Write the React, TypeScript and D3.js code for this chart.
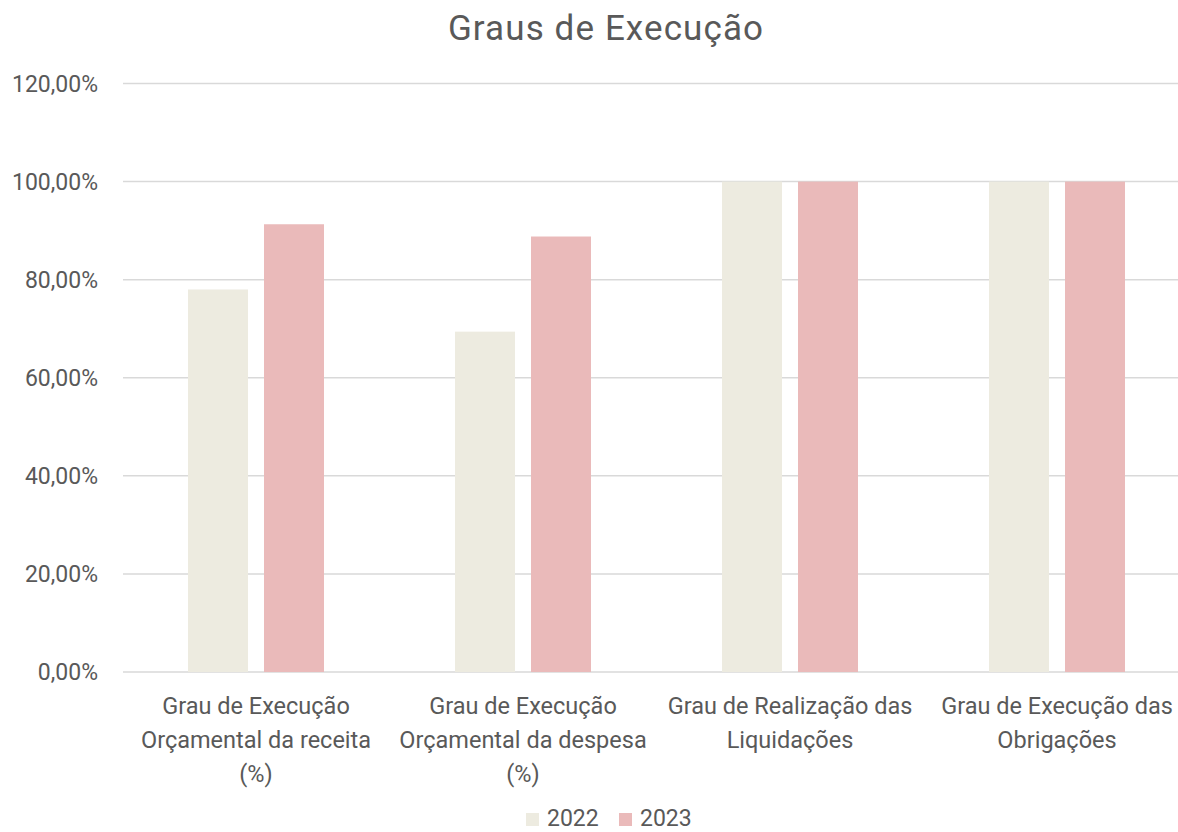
import React, { useRef, useEffect } from "react";
import * as d3 from "d3";

const categories = [
  ["Grau de Execução", "Orçamental da receita", "(%)"],
  ["Grau de Execução", "Orçamental da despesa", "(%)"],
  ["Grau de Realização das", "Liquidações"],
  ["Grau de Execução das", "Obrigações"],
];
const years = ["2022", "2023"];
const values2022 = [78.0, 69.4, 100, 100];
const values2023 = [91.3, 88.8, 100, 100];
const yTicks = [0, 20, 40, 60, 80, 100, 120];

const colors = ["#EDEBE0", "#EABABA"];
const textColor = "#595959";
const font = "Roboto, 'Open Sans', sans-serif";

const App = () => {
  const svgRef = useRef<SVGSVGElement>(null);

  useEffect(() => {
    const width = 1178;
    const height = 832;

    const svg = d3.select(svgRef.current);
    svg.selectAll("*").remove();
    svg.attr("width", width).attr("height", height);

    // plot runs a little past the right edge in the original
    const x = d3.scaleBand<number>()
      .domain(d3.range(categories.length))
      .range([122.5, 1190.5]);

    const y = d3.scaleLinear()
      .domain([0, 120])
      .range([672, 83.5]);

    // title
    svg.append("text")
      .attr("x", 606)
      .attr("y", 40)
      .attr("text-anchor", "middle")
      .attr("font-family", font)
      .attr("font-size", 35)
      .attr("letter-spacing", 1.1)
      .attr("fill", textColor)
      .text("Graus de Execução");

    // gridlines
    svg.append("g")
      .selectAll("line")
      .data(yTicks)
      .enter()
      .append("line")
      .attr("x1", 123)
      .attr("x2", width)
      .attr("y1", d => y(d))
      .attr("y2", d => y(d))
      .attr("stroke", "#D9D9D9")
      .attr("stroke-width", 1.5);

    // y labels
    svg.append("g")
      .selectAll("text")
      .data(yTicks)
      .enter()
      .append("text")
      .attr("x", 98)
      .attr("y", d => y(d))
      .attr("dy", "0.35em")
      .attr("text-anchor", "end")
      .attr("font-family", font)
      .attr("font-size", 23)
      .attr("fill", textColor)
      .text(d => d3.format(".2f")(d).replace(".", ",") + "%");

    // bars
    const barW = 60;
    const gap = 16;
    const series = [values2022, values2023];
    series.forEach((vals, s) => {
      svg.append("g")
        .selectAll("rect")
        .data(vals)
        .enter()
        .append("rect")
        .attr("x", (d, i) => x(i)! + x.bandwidth() / 2 + (s === 0 ? -gap / 2 - barW : gap / 2))
        .attr("y", d => y(d))
        .attr("width", barW)
        .attr("height", d => y(0) - y(d))
        .attr("fill", colors[s]);
    });

    // x labels
    const lab = svg.append("g")
      .selectAll("text")
      .data(categories)
      .enter()
      .append("text")
      .attr("text-anchor", "middle")
      .attr("font-family", font)
      .attr("font-size", 23.5)
      .attr("fill", textColor)
      .attr("transform", (d, i) => `translate(${x(i)! + x.bandwidth() / 2},714)`);
    lab.selectAll("tspan")
      .data(d => d)
      .enter()
      .append("tspan")
      .attr("x", 0)
      .attr("y", (d, i) => i * 34)
      .text(d => d);

    // legend
    const legend = svg.append("g");
    const legX = [526, 619];
    years.forEach((yr, i) => {
      legend.append("rect")
        .attr("x", legX[i])
        .attr("y", 813)
        .attr("width", 13)
        .attr("height", 13)
        .attr("fill", colors[i]);
      legend.append("text")
        .attr("x", legX[i] + 21)
        .attr("y", 826)
        .attr("font-family", font)
        .attr("font-size", 23)
        .attr("fill", textColor)
        .text(yr);
    });
  }, []);

  return <svg ref={svgRef} style={{ position: "absolute", left: 0, top: 0 }}></svg>;
};

export default App;
